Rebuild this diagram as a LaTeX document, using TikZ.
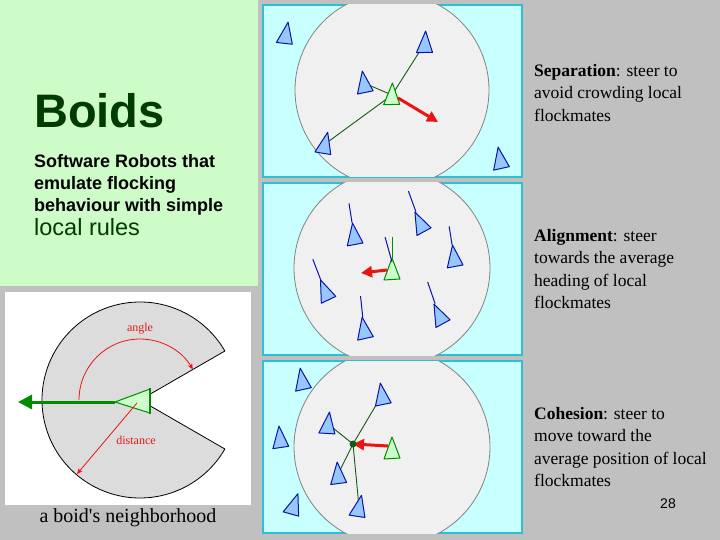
\documentclass[tikz,border=0pt]{standalone}
\usepackage{fontspec}
\setmainfont{Liberation Serif}
\newfontfamily\arialfont{Liberation Sans}
\usetikzlibrary{arrows.meta}

\definecolor{slide}{RGB}{192,192,192}
\definecolor{pale}{RGB}{206,252,200}
\definecolor{dkgreen}{RGB}{0,60,0}
\definecolor{cyanf}{RGB}{200,255,255}
\definecolor{cyanb}{RGB}{50,190,210}
\definecolor{nbhd}{RGB}{240,240,240}
\definecolor{nbhdb}{RGB}{130,130,130}
\definecolor{bluef}{RGB}{150,200,255}
\definecolor{blued}{RGB}{10,20,170}
\definecolor{greenf}{RGB}{204,255,204}
\definecolor{greend}{RGB}{0,140,0}
\definecolor{linkg}{RGB}{20,90,20}
\definecolor{redarr}{RGB}{235,20,20}
\definecolor{wedge}{RGB}{220,220,220}

\tikzstyle{bb} = [draw=blued, fill=bluef, line width=1pt, line join=round]
\tikzstyle{gb} = [draw=greend, fill=greenf, line width=1pt, line join=round]
\tikzstyle{gl} = [draw=linkg, line width=0.9pt]
\tikzstyle{hl} = [draw=blued, line width=1pt]
\tikzstyle{ra} = [draw=redarr, line width=3pt, -{Triangle[length=11pt,width=11pt]}]
\tikzstyle{rs} = [draw=redarr, line width=0.8pt, -{Stealth[length=6pt,width=5pt]}]
\tikzstyle{pnl} = [draw=cyanb, fill=cyanf, line width=1.3pt]
\tikzstyle{zone} = [draw=nbhdb, fill=nbhd, line width=0.8pt]
\tikzstyle{rule} = [anchor=north west, align=left, font=\fontsize{17.5}{22.5}\selectfont]
\tikzstyle{every node}=[inner sep=0pt]

% boid: style, position, tilt (clockwise, degrees)
\newcommand{\boid}[3]{\draw[#1,shift={(#2)},rotate=-#3] (0,-12) -- (-8,10) -- (8,9) -- cycle;}
% heading line in front of a boid
\newcommand{\hdg}[4]{\draw[#1,shift={(#2)},rotate=-#3] (0,-12) -- (0,-12-#4);}

\begin{document}
\begin{tikzpicture}[x=1pt, y=-1pt]
\useasboundingbox (0,0) rectangle (720,540);
\fill[slide] (0,0) rectangle (720,540);

% title block
\fill[pale] (0,0) rectangle (258,286);
\node[anchor=base west, font=\arialfont\bfseries\fontsize{47}{50}\selectfont, text=dkgreen] (title) at (34,128) {Boids};
\node[anchor=north west, align=left, font=\arialfont\bfseries\fontsize{18}{22}\selectfont] (sub) at (34,154) {Software Robots that\\emulate flocking\\behaviour with simple};
\node[anchor=base west, font=\arialfont\fontsize{23.5}{26}\selectfont, text=dkgreen] (sub2) at (34,236) {local rules};

% neighborhood
\fill[white] (5,292) rectangle (251,505);
\coordinate (nc) at (140,400);
\draw[fill=wedge, draw=black, line width=0.8pt] (nc) -- ++(30:98) arc[start angle=30, end angle=330, radius=98] -- cycle;
\coordinate (tip) at (115,402);
\coordinate (fw) at (18,402);
\draw[draw=greend, line width=3pt, -{Triangle[length=14pt,width=14pt]}] (tip) -- (fw);
\draw[gb, fill=greenf] (tip) -- (150,389) -- (150,413) -- cycle;
\draw[draw=greend, line width=2.5pt] (150,388) -- (150,414);
\draw[rs] (nc) ++(180:61) arc[start angle=180, end angle=330, radius=61];
\coordinate (d0) at (137,403);
\coordinate (d1) at (77,474);
\draw[rs] (d0) -- (d1);
\node[text=redarr, font=\fontsize{12}{12}\selectfont] (lang) at (140,329) {angle};
\node[text=redarr, font=\fontsize{12}{12}\selectfont] (ldist) at (136,440) {distance};
\node[font=\fontsize{20}{20}\selectfont] (cap) at (128,518) {a boid\textquotesingle s neighborhood};

% separation
\draw[pnl] (263,5) rectangle (522,177);
\begin{scope}
\clip (263,5) rectangle (522,177);
\draw[zone] (392,90) circle[radius=97];
\end{scope}
\coordinate (s0) at (392,95);
\coordinate (s1) at (286,34);
\coordinate (s2) at (425,43);
\coordinate (s3) at (364,83);
\coordinate (s4) at (325,144);
\coordinate (s5) at (500,159);
\draw[gl] (s0) -- (s2);
\draw[gl] (s0) -- (s3);
\draw[gl] (s0) -- (s4);
\boid{bb}{s1}{10}
\boid{bb}{s2}{3}
\boid{bb}{s3}{-8}
\boid{bb}{s4}{13}
\boid{bb}{s5}{-9}
\boid{gb}{s0}{2}
\coordinate (sr) at (438,122);
\draw[ra] (398,98) -- (sr);
\node[rule] (sep) at (534,64) {\textbf{Separation}: steer to\\avoid crowding local\\flockmates};

% alignment
\draw[pnl] (263,183) rectangle (522,355);
\begin{scope}
\clip (263,183) rectangle (522,355);
\draw[zone] (392,268) circle[radius=98];
\end{scope}
\coordinate (a0) at (392,270);
\coordinate (a1) at (354,235);
\coordinate (a2) at (420,223);
\coordinate (a3) at (454,257);
\coordinate (a4) at (325,291);
\coordinate (a5) at (364,329);
\coordinate (a6) at (439,315);
\boid{bb}{a1}{-7}
\hdg{hl}{a1}{-9}{20}
\boid{bb}{a2}{-25}
\hdg{hl}{a2}{-20}{22}
\boid{bb}{a3}{-7}
\hdg{hl}{a3}{-9}{19}
\boid{bb}{a4}{-22}
\hdg{hl}{a4}{-21}{22}
\boid{bb}{a5}{-9}
\hdg{hl}{a5}{-6}{21}
\boid{bb}{a6}{-25}
\hdg{hl}{a6}{-19}{23}
\hdg{gl, draw=greend}{a0}{0}{21}
\boid{gb}{a0}{0}
\draw[hl, shift={(a0)}] (0,-8) -- (-7,-33);
\coordinate (ar) at (361,273);
\draw[ra] (387,270) -- (ar);
\node[rule] (ali) at (534,229) {\textbf{Alignment}: steer\\towards the average\\heading of local\\flockmates};

% cohesion
\draw[pnl] (263,361) rectangle (522,533);
\begin{scope}
\clip (263,361) rectangle (522,533);
\draw[zone] (392,447) circle[radius=98];
\end{scope}
\coordinate (c0) at (392,449);
\coordinate (cm) at (353,444);
\coordinate (c1) at (302,380);
\coordinate (c2) at (280,438);
\coordinate (c3) at (294,505);
\coordinate (c4) at (382,395);
\coordinate (c5) at (328,424);
\coordinate (c6) at (338,474);
\coordinate (c7) at (359,507);
\draw[gl] (cm) -- (c4);
\draw[gl] (cm) -- (c5);
\draw[gl] (cm) -- (c6);
\draw[gl] (cm) -- (c7);
\boid{bb}{c1}{-9}
\boid{bb}{c2}{-5}
\boid{bb}{c3}{19}
\boid{bb}{c4}{-8}
\boid{bb}{c5}{7}
\boid{bb}{c6}{-4}
\boid{bb}{c7}{12}
\boid{gb}{c0}{0}
\draw[ra] (388,446) -- (cm);
\fill[linkg] (cm) circle[radius=3.5];
\node[rule] (coh) at (534,407) {\textbf{Cohesion}: steer to\\move toward the\\average position of local\\flockmates};

\node[font=\arialfont\fontsize{14}{14}\selectfont] (pg) at (668,504) {28};
\end{tikzpicture}
\end{document}
